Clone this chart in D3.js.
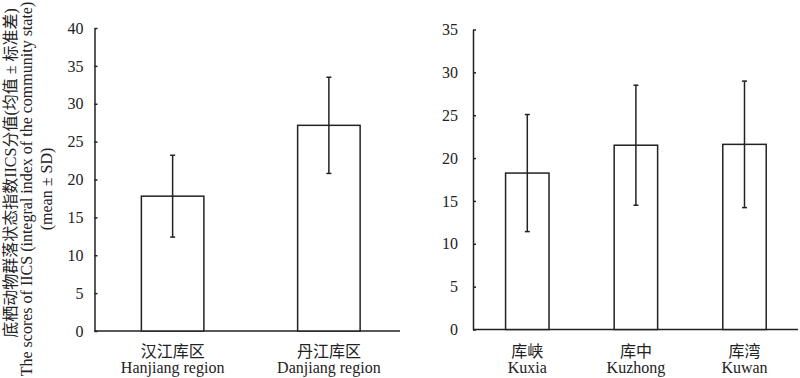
<!DOCTYPE html>
<html>
<head>
<meta charset="utf-8">
<script src="https://cdn.jsdelivr.net/npm/d3@7"></script>
<style>
  body { margin: 0; background: #fff; }
  svg text { font-family: "Liberation Serif", "Times New Roman", "Noto Sans CJK SC", serif; fill: #222; }
</style>
</head>
<body>
<svg id="chart" width="800" height="378"></svg>
<script>
// Left panel data (reservoir regions)
const leftCats = ['汉江库区', '丹江库区'];
const leftEn = ['Hanjiang region', 'Danjiang region'];
const leftMean = [17.8, 27.15];
const leftSD = [5.4, 6.35];
const leftTicks = [0, 5, 10, 15, 20, 25, 30, 35, 40];

// Right panel data (reservoir sections)
const rightCats = ['库峡', '库中', '库湾'];
const rightEn = ['Kuxia', 'Kuzhong', 'Kuwan'];
const rightMean = [18.25, 21.5, 21.6];
const rightSD = [6.83, 7.0, 7.38];
const rightTicks = [0, 5, 10, 15, 20, 25, 30, 35];

const svg = d3.select('#chart');
const ink = '#222';

function drawPanel(opt) {
    const g = svg.append('g');

    const y = d3.scaleLinear()
        .domain([0, d3.max(opt.ticks)])
        .range([opt.y0, opt.y1]);

    const x = d3.scaleBand()
        .domain(opt.cats)
        .range([opt.x0, opt.x1])
        .paddingInner(0.6)
        .paddingOuter(0.3);

    // Y axis with short inward ticks
    const yAxis = d3.axisLeft(y)
        .tickValues(opt.ticks)
        .tickSizeInner(-3)
        .tickSizeOuter(0)
        .tickPadding(opt.pad);

    const ya = g.append('g')
        .attr('transform', `translate(${opt.x0},0)`)
        .call(yAxis);
    ya.selectAll('path, line').attr('stroke', ink).attr('stroke-width', 1.5);
    ya.selectAll('text')
        .attr('font-size', 16)
        .attr('font-family', '"Liberation Serif", serif')
        .attr('fill', ink);

    // X axis baseline
    g.append('line')
        .attr('x1', opt.x0).attr('x2', opt.xEnd)
        .attr('y1', y(0)).attr('y2', y(0))
        .attr('stroke', ink).attr('stroke-width', 1.5);

    const rows = opt.cats.map((c, i) => ({ c, en: opt.en[i], m: opt.mean[i], sd: opt.sd[i] }));

    // Bars
    g.selectAll('rect.bar')
        .data(rows)
        .enter()
        .append('rect')
        .attr('class', 'bar')
        .attr('x', d => x(d.c))
        .attr('y', d => y(d.m))
        .attr('width', x.bandwidth())
        .attr('height', d => y(0) - y(d.m))
        .attr('fill', '#fff')
        .attr('stroke', ink)
        .attr('stroke-width', 1.5);

    // Error bars
    const cx = d => x(d.c) + x.bandwidth() / 2;
    const eb = g.selectAll('g.err')
        .data(rows)
        .enter()
        .append('g')
        .attr('class', 'err')
        .attr('stroke', ink)
        .attr('stroke-width', 1.5);
    eb.append('line')
        .attr('x1', cx).attr('x2', cx)
        .attr('y1', d => y(d.m + d.sd)).attr('y2', d => y(d.m - d.sd));
    eb.append('line')
        .attr('x1', d => cx(d) - 2.5).attr('x2', d => cx(d) + 2.5)
        .attr('y1', d => y(d.m + d.sd)).attr('y2', d => y(d.m + d.sd));
    eb.append('line')
        .attr('x1', d => cx(d) - 2.5).attr('x2', d => cx(d) + 2.5)
        .attr('y1', d => y(d.m - d.sd)).attr('y2', d => y(d.m - d.sd));

    // Category labels (Chinese + English)
    const lab = g.selectAll('g.lab')
        .data(rows)
        .enter()
        .append('g')
        .attr('class', 'lab')
        .attr('transform', d => `translate(${cx(d)},0)`);
    lab.append('text')
        .attr('y', 357)
        .attr('text-anchor', 'middle')
        .attr('font-size', 16)
        .text(d => d.c);
    lab.append('text')
        .attr('y', 373)
        .attr('text-anchor', 'middle')
        .attr('font-size', 16)
        .text(d => d.en);
}

drawPanel({
    cats: leftCats, en: leftEn, mean: leftMean, sd: leftSD, ticks: leftTicks,
    x0: 94.5, x1: 407, xEnd: 400, y0: 331, y1: 28, pad: 11
});

drawPanel({
    cats: rightCats, en: rightEn, mean: rightMean, sd: rightSD, ticks: rightTicks,
    x0: 473, x1: 798.8, xEnd: 798, y0: 329.5, y1: 29.5, pad: 15
});

// Y axis title (three rotated lines)
const titles = [
    { t: '底栖动物群落状态指数IICS分值(均值 ± 标准差)', x: 16, y: 173 },
    { t: 'The scores of IICS (integral index of the community state)', x: 32, y: 189 },
    { t: '(mean ± SD)', x: 52, y: 189 }
];
svg.selectAll('text.ytitle')
    .data(titles)
    .enter()
    .append('text')
    .attr('class', 'ytitle')
    .attr('transform', d => `translate(${d.x},${d.y}) rotate(-90)`)
    .attr('text-anchor', 'middle')
    .attr('font-size', 16)
    .text(d => d.t);
</script>
</body>
</html>
